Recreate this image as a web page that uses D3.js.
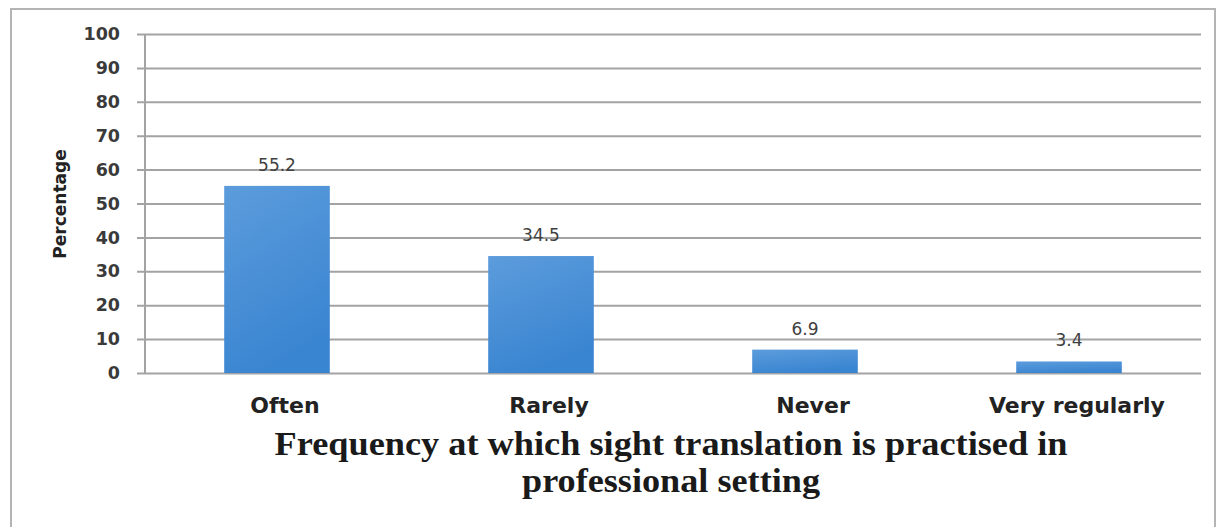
<!DOCTYPE html>
<html>
<head>
<meta charset="utf-8">
<script src="https://cdn.jsdelivr.net/npm/d3@7/dist/d3.min.js"></script>
<style>
  html, body { margin: 0; padding: 0; background: #fff; }
  svg { display: block; }
</style>
</head>
<body>
<svg id="chart" width="1226" height="527"></svg>
<script>
// Survey responses: how often sight translation is practised professionally
const categories = ["Often", "Rarely", "Never", "Very regularly"];
const percentages = [55.2, 34.5, 6.9, 3.4];
const yTicks = [0, 10, 20, 30, 40, 50, 60, 70, 80, 90, 100];
const yLabel = "Percentage";
const titleLines = ["Frequency at which sight translation is practised in", "professional setting"];

const svg = d3.select("#chart");
const W = 1226, H = 527;
const margin = { left: 145, right: 25, top: 34, bottom: 154 };
const plotW = W - margin.left - margin.right;
const plotH = H - margin.top - margin.bottom;

// gradient for the bars
const defs = svg.append("defs");
const grad = defs.append("linearGradient")
  .attr("id", "barGrad").attr("x1", 0).attr("y1", 0).attr("x2", 0.35).attr("y2", 1);
grad.append("stop").attr("offset", "0%").attr("stop-color", "#5c9cdc");
grad.append("stop").attr("offset", "100%").attr("stop-color", "#3a85d1");

// outer frame
svg.append("rect")
  .attr("x", 11).attr("y", 9).attr("width", 1204).attr("height", 540)
  .attr("fill", "none").attr("stroke", "#b4b4b4").attr("stroke-width", 2);

const g = svg.append("g").attr("transform", `translate(${margin.left},${margin.top})`);

const x = d3.scaleBand().domain(categories).range([0, plotW]).paddingInner(0.6).paddingOuter(0.3);
const y = d3.scaleLinear().domain([0, 100]).range([plotH, 0]);

// horizontal gridlines with tick labels
const yAxis = d3.axisLeft(y).tickValues(yTicks).tickSize(-plotW).tickPadding(17);
const yg = g.append("g").call(yAxis);
yg.select(".domain").remove();
yg.selectAll(".tick line")
  .attr("x1", -8)
  .attr("stroke", "#a3a3a3").attr("stroke-width", 2);
yg.selectAll(".tick text")
  .attr("x", -25)
  .attr("font-family", "DejaVu Sans, sans-serif")
  .attr("font-weight", "bold").attr("font-size", 17.5)
  .attr("fill", "#3a3a3a");

// vertical axis line
g.append("line")
  .attr("x1", 0).attr("x2", 0).attr("y1", y(100)).attr("y2", y(0))
  .attr("stroke", "#a3a3a3").attr("stroke-width", 2);

// bars
g.selectAll("rect.bar").data(categories).join("rect")
  .attr("class", "bar")
  .attr("x", d => x(d))
  .attr("width", x.bandwidth())
  .attr("y", (d, i) => y(percentages[i]))
  .attr("height", (d, i) => y(0) - y(percentages[i]))
  .attr("fill", "url(#barGrad)");

// value labels
g.selectAll("text.val").data(categories).join("text")
  .attr("class", "val")
  .attr("x", d => x(d) + x.bandwidth() / 2)
  .attr("y", (d, i) => y(percentages[i]) - 15)
  .attr("text-anchor", "middle")
  .attr("font-family", "DejaVu Sans, sans-serif")
  .attr("font-size", 17)
  .attr("fill", "#404040")
  .text((d, i) => percentages[i].toFixed(1));

// category axis
const xAxis = d3.axisBottom(x).tickSize(0).tickPadding(24);
const xg = g.append("g").attr("transform", `translate(0,${plotH})`).call(xAxis);
xg.select(".domain").remove();
xg.selectAll(".tick text")
  .attr("dx", 8)
  .attr("font-family", "DejaVu Sans, sans-serif")
  .attr("font-weight", "bold").attr("font-size", 22)
  .attr("fill", "#222");

// y-axis title
svg.append("text")
  .attr("transform", "translate(66,204) rotate(-90)")
  .attr("text-anchor", "middle")
  .attr("font-family", "DejaVu Sans, sans-serif")
  .attr("font-weight", "bold").attr("font-size", 17)
  .attr("fill", "#222")
  .text(yLabel);

// chart title below the axis
const titleWidths = [793, 298];
const titleBase = [455, 492];
svg.selectAll("text.title").data(titleLines).join("text")
  .attr("class", "title")
  .attr("x", 671)
  .attr("y", (d, i) => titleBase[i])
  .attr("text-anchor", "middle")
  .attr("font-family", "Liberation Serif, Times New Roman, serif")
  .attr("font-weight", "bold").attr("font-size", 33)
  .attr("fill", "#1a1a1a")
  .attr("textLength", (d, i) => titleWidths[i])
  .attr("lengthAdjust", "spacingAndGlyphs")
  .text(d => d);
</script>
</body>
</html>
